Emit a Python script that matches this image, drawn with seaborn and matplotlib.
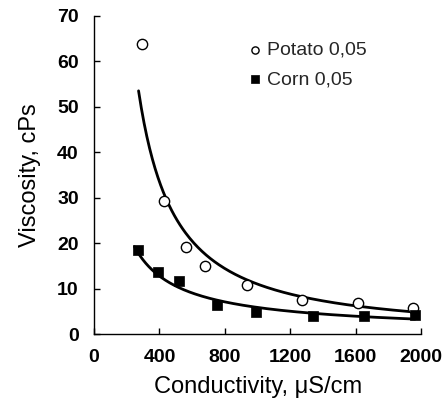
import numpy as np
import pandas as pd
import matplotlib
matplotlib.use("Agg")
import matplotlib.pyplot as plt
import seaborn as sns

# Data
potato_x = [292, 430, 563, 681, 934, 1274, 1613, 1953]
potato_y = [63.8, 29.2, 19.2, 15.0, 10.8, 7.5, 6.9, 5.65]
corn_x = [267, 393, 520, 754, 989, 1338, 1649, 1963]
corn_y = [18.5, 13.7, 11.7, 6.3, 4.9, 4.0, 4.0, 4.1]
x_ticks = [0, 400, 800, 1200, 1600, 2000]
y_ticks = [0, 10, 20, 30, 40, 50, 60, 70]

sns.set_theme(style="ticks")
plt.rcParams['font.family'] = ['Liberation Sans', 'DejaVu Sans']

fig = plt.figure(figsize=(4.48, 4.16), dpi=100)
ax = fig.add_axes([0.21, 0.197, 0.73, 0.765])

df_p = pd.DataFrame({"x": potato_x, "y": potato_y})
df_c = pd.DataFrame({"x": corn_x, "y": corn_y})

def power_fit(xs, ys):
    b, lna = np.polyfit(np.log(xs), np.log(ys), 1)
    xx = np.linspace(min(xs) - 20, max(xs), 200)
    return xx, np.exp(lna) * xx ** b

px, py = power_fit(potato_x, potato_y)
cx, cy = power_fit(corn_x, corn_y)
sns.lineplot(x=px, y=py, ax=ax, color="black", lw=2, legend=False)
sns.lineplot(x=cx, y=cy, ax=ax, color="black", lw=2, legend=False)

sns.scatterplot(data=df_p, x="x", y="y", ax=ax, marker="o", s=55,
                facecolor="white", edgecolor="black", linewidth=1,
                label="Potato 0,05", zorder=3)
sns.scatterplot(data=df_c, x="x", y="y", ax=ax, marker="s", s=60,
                color="black", edgecolor="black", linewidth=0.5,
                label="Corn 0,05", zorder=3)

ax.set_xlim(0, 2000)
ax.set_ylim(0, 70)
ax.set_xticks(x_ticks)
ax.set_yticks(y_ticks)
ax.tick_params(direction="in", length=4, width=1, labelsize=14, colors="black", pad=11)
for lab in ax.get_xticklabels() + ax.get_yticklabels():
    lab.set_fontweight("bold")
for s in ["top", "right"]:
    ax.spines[s].set_visible(False)
for s in ["left", "bottom"]:
    ax.spines[s].set_color("black")
    ax.spines[s].set_linewidth(1)

ax.set_xlabel("Conductivity, μS/cm", fontsize=17, labelpad=7, color="black")
ax.set_ylabel("Viscosity, cPs", fontsize=17, labelpad=12, color="black")

leg = ax.legend(loc="upper left", bbox_to_anchor=(0.41, 0.975), frameon=False,
                fontsize=14, handletextpad=0.1, markerscale=0.7, labelspacing=0.6,
                handlelength=1.0)

fig.savefig("out.png", dpi=100)
